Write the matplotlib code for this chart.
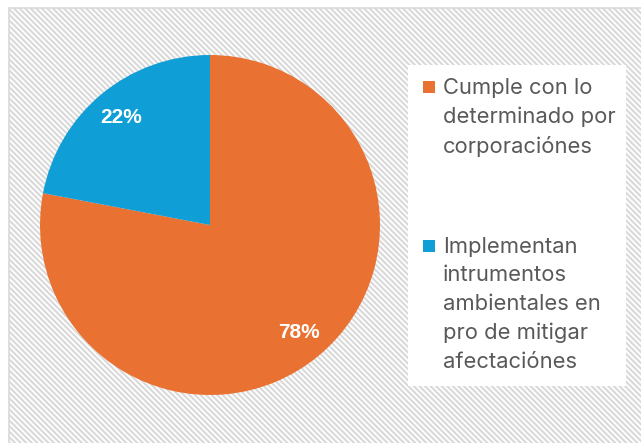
import matplotlib
matplotlib.use("Agg")
import matplotlib.pyplot as plt
from matplotlib.patches import Rectangle

# datos del gráfico
categorias = ["Cumple con lo\ndeterminado por\ncorporaciónes",
              "Implementan\nintrumentos\nambientales en\npro de mitigar\nafectaciónes"]
valores = [78, 22]
colores = ["#E97132", "#0F9ED5"]

W, H = 641, 443
fig = plt.figure(figsize=(W / 100, H / 100), dpi=100)
fig.patch.set_facecolor("white")

# fondo con rayado diagonal y borde gris
plt.rcParams["hatch.color"] = "#f1f1f1"
plt.rcParams["hatch.linewidth"] = 1.5
fondo = Rectangle((9 / W, -0.1), 1, 1.1 - 8 / H, transform=fig.transFigure,
                  facecolor="white", edgecolor="#d9d9d9", hatch="\\\\\\\\\\\\",
                  linewidth=1.2, zorder=-5)
fig.patches.append(fondo)

# leyenda manual (caja blanca)
caja = Rectangle((408 / W, 1 - 386 / H), 218 / W, 321 / H,
                 transform=fig.transFigure, facecolor="white",
                 edgecolor="none", zorder=-4)
fig.patches.append(caja)

# pastel
cx, cy, r = 210, 225, 170
ax = fig.add_axes([(cx - r) / W, (H - cy - r) / H, 2 * r / W, 2 * r / H])
ax.patch.set_alpha(0)
wedges, textos, autotextos = ax.pie(
    valores, colors=colores, startangle=90, counterclock=False,
    autopct="%1.0f%%", pctdistance=0.82, radius=1,
    wedgeprops=dict(linewidth=0))
for t in autotextos:
    t.set_color("white")
    t.set_fontsize(15)
    t.set_fontweight("bold")
    t.set_family("Liberation Sans")
ax.set_xlim(-1, 1)
ax.set_ylim(-1, 1)
ax.set_aspect("equal")
ax.axis("off")

pos_y = [81, 240]
for y, col, lab in zip(pos_y, colores, categorias):
    fig.patches.append(Rectangle((423 / W, 1 - (y + 12) / H), 12 / W, 12 / H,
                                 transform=fig.transFigure, facecolor=col,
                                 edgecolor="none", zorder=2))
    fig.text(443 / W, 1 - (y - 3) / H, lab, ha="left", va="top",
             fontsize=15.8, color="#595959", family="Inter",
             linespacing=1.53, zorder=3)

fig.savefig("out.png", dpi=100)
